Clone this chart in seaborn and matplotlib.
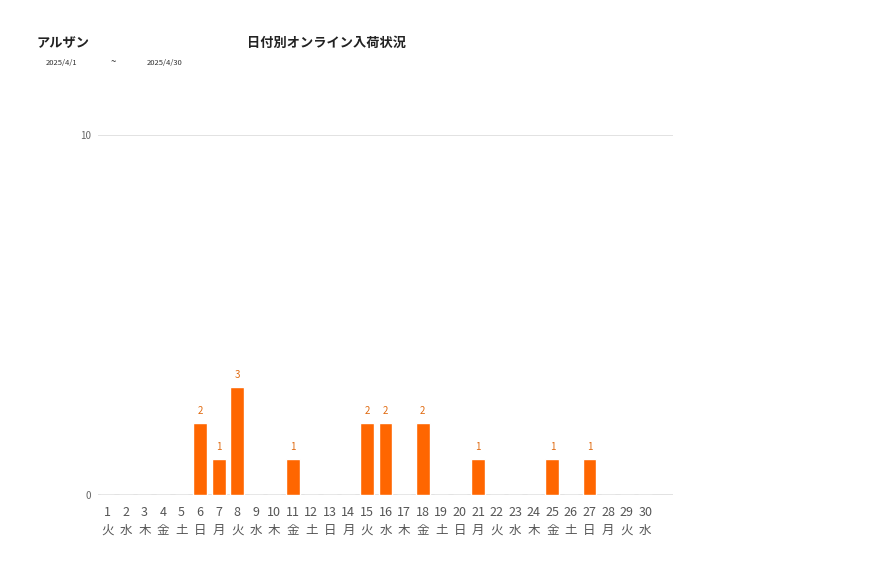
import matplotlib
matplotlib.use("Agg")
import matplotlib.pyplot as plt
import seaborn as sns
import pandas as pd

days = [str(i) for i in range(1, 31)]
weekdays = ["火", "水", "木", "金", "土", "日", "月"] * 5
weekdays = weekdays[:30]
values = [0, 0, 0, 0, 0, 2, 1, 3, 0, 0, 1, 0, 0, 0, 2, 2, 0, 2, 0, 0, 1, 0, 0, 0, 1, 0, 1, 0, 0, 0]
y_ticks = [0, 10]

sns.set_theme(style="white")
plt.rcParams['font.family'] = ['Noto Sans CJK JP', 'DejaVu Sans']

df = pd.DataFrame({"day": days, "value": values})

fig = plt.figure(figsize=(8.77, 5.78), dpi=100)
ax = fig.add_axes([98/877, 83/578, 575/877, 360/578])
for y in y_ticks:
    ax.axhline(y, color="#dddddd", lw=1.2, zorder=0.5)
sns.barplot(data=df, x="day", y="value", color="#FF6600", saturation=1, width=0.75, ax=ax, zorder=2)
ax.set_xlim(-0.5, 30.5)
ax.set_ylim(0, 10)
ax.set_yticks(y_ticks)
ax.set_yticklabels([str(t) for t in y_ticks], fontsize=7, color="#666666")
ax.set_xticks(range(len(days)))
ax.set_xticklabels([f"{d}\n{w}" for d, w in zip(days, weekdays)], fontsize=9, color="#555555", linespacing=1.5)
ax.tick_params(axis="x", length=0, pad=8)
ax.tick_params(axis="y", length=0, pad=5)
for s in ax.spines.values():
    s.set_visible(False)
ax.set_xlabel("")
ax.set_ylabel("")

for i, v in enumerate(values):
    if v > 0:
        ax.annotate(str(v), (i, v), xytext=(0, 5), textcoords="offset points",
                    ha="center", va="bottom", fontsize=7, color="#E06A10")

fig.text(37/877, 1 - 43/578, "アルザン", fontsize=9.5, fontweight="bold", va="center", ha="left", color="#222222")
fig.text(247/877, 1 - 43/578, "日付別オンライン入荷状況", fontsize=9.5, fontweight="bold", va="center", ha="left", color="#222222")
fig.text(62/877, 1 - 63/578, "2025/4/1", fontsize=5.5, va="center", ha="center", color="#333333")
fig.text(113/877, 1 - 62/578, "~", fontsize=7, va="center", ha="center", color="#333333")
fig.text(165/877, 1 - 63/578, "2025/4/30", fontsize=5.5, va="center", ha="center", color="#333333")

fig.savefig("out.png", dpi=100)
